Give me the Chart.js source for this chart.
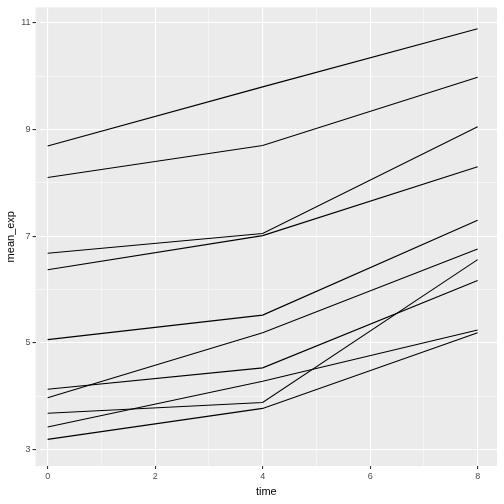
<!DOCTYPE html>
<html>
<head>
<script src="https://cdn.jsdelivr.net/npm/chart.js@4"></script>
<style>
body { margin: 0; background: #fff; }
#wrap { width: 504px; height: 504px; }
</style>
</head>
<body>
<div id="wrap"><canvas id="myChart" width="504" height="504"></canvas></div>
<script>
var times = [0, 4, 8];
var s1 = [8.69, 9.80, 10.89];
var s2 = [8.10, 8.70, 9.98];
var s3 = [6.68, 7.05, 9.05];
var s4 = [6.37, 7.01, 8.30];
var s5 = [5.06, 5.52, 7.30];
var s6 = [3.97, 5.19, 6.76];
var s7 = [4.13, 4.53, 6.17];
var s8 = [3.68, 3.88, 6.56];
var s9 = [3.42, 4.28, 5.24];
var s10 = [3.19, 3.77, 5.19];
var allSeries = [s1, s2, s3, s4, s5, s6, s7, s8, s9, s10];
var xTickLabels = [0, 2, 4, 6, 8];
var yTickLabels = [3, 5, 7, 9, 11];

const datasets = allSeries.map(function (s) {
	return {
		data: s.map(function (v, i) { return { x: times[i], y: v }; }),
		borderColor: "#000000",
		borderWidth: 1.1,
		pointRadius: 0,
		fill: false,
		tension: 0,
	};
});

const bgPlugin = {
	id: "panelBg",
	beforeDraw: function (chart) {
		const a = chart.chartArea;
		const ctx = chart.ctx;
		ctx.save();
		ctx.fillStyle = "#EBEBEB";
		ctx.fillRect(a.left, a.top, a.right - a.left, a.bottom - a.top);
		ctx.restore();
	},
};

function axis(min, max, labels, title) {
	return {
		type: "linear",
		min: min,
		max: max,
		ticks: {
			stepSize: 1,
			includeBounds: false,
			autoSkip: false,
			maxRotation: 0,
			color: "#4D4D4D",
			font: { family: "Liberation Sans", size: 9 },
			padding: 2,
			callback: function (v) { return labels.indexOf(v) >= 0 ? String(v) : ""; },
		},
		grid: {
			color: "#FFFFFF",
			lineWidth: function (c) { return labels.indexOf(c.tick.value) >= 0 ? 1.1 : 0.5; },
			tickLength: 3,
			tickColor: function (c) { return labels.indexOf(c.tick.value) >= 0 ? "#333333" : "rgba(0,0,0,0)"; },
		},
		border: { display: false },
		title: {
			display: true,
			text: title,
			color: "#000000",
			font: { family: "Liberation Sans", size: 11 },
			padding: 2,
		},
	};
}

const xAxis = axis(-0.225, 8.36, xTickLabels, "time");
xAxis.ticks.stepSize = 1;
const config = {
	type: "line",
	data: { datasets: datasets },
	options: {
		responsive: false,
		animation: false,
		layout: { padding: { left: 2, right: 7, top: 5, bottom: 3 } },
		plugins: { legend: { display: false }, tooltip: { enabled: false } },
		scales: {
			x: xAxis,
			y: axis(2.69, 11.29, yTickLabels, "mean_exp"),
		},
	},
	plugins: [bgPlugin],
};

const myChart = new Chart(document.getElementById("myChart"), config);
</script>
</body>
</html>
